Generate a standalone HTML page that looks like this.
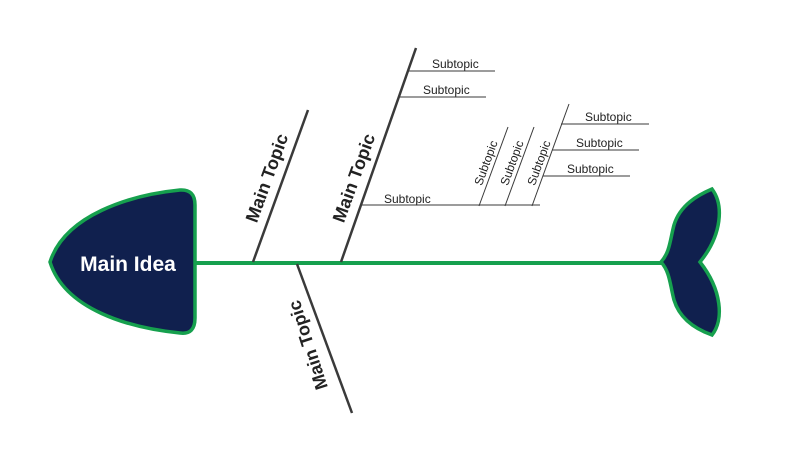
<!DOCTYPE html>
<html><head><meta charset="utf-8"><style>body{margin:0;background:#fff}</style></head>
<body>
<svg width="797" height="464" viewBox="0 0 797 464" xmlns="http://www.w3.org/2000/svg" font-family="Liberation Sans, sans-serif">
<rect width="797" height="464" fill="#fff"/>
<line x1="195" y1="263" x2="662" y2="263" stroke="#16a04e" stroke-width="4"/>
<path d="M50,262 C65,215 130,195 180,190 Q195,189 195,205 L195,318 Q195,335 180,333 C130,328 65,310 50,262 Z" fill="#10204e" stroke="#16a04e" stroke-width="3.5"/>
<text x="128" y="271" fill="#fff" font-size="21" font-weight="bold" text-anchor="middle">Main Idea</text>
<path d="M661,262 C670,252 670,240 674,225 C680,205 698,195 712,189 C724,205 722,235 700,262 C722,290 724,320 712,335 C698,330 680,320 674,300 C670,285 670,272 661,262 Z" fill="#10204e" stroke="#16a04e" stroke-width="3.5"/>
<g stroke="#3a3a3a" stroke-width="2.5" fill="none">
<line x1="253" y1="262" x2="308" y2="110"/>
<line x1="341" y1="262" x2="416" y2="48"/>
<line x1="297" y1="264" x2="352" y2="413"/>
</g>
<g stroke="#3a3a3a" stroke-width="1" fill="none">
<line x1="408" y1="71" x2="495" y2="71"/>
<line x1="399" y1="97" x2="486" y2="97"/>
<line x1="362" y1="205" x2="540" y2="205"/>
<line x1="479" y1="206" x2="508" y2="127"/>
<line x1="505" y1="206" x2="534" y2="127"/>
<line x1="532" y1="206" x2="569" y2="104"/>
<line x1="561" y1="124" x2="649" y2="124"/>
<line x1="552" y1="150" x2="639" y2="150"/>
<line x1="543" y1="176" x2="630" y2="176"/>
</g>
<g font-size="18" font-weight="bold" fill="#222" text-anchor="middle" dominant-baseline="central">
<text transform="translate(267,178) rotate(-70)">Main Topic</text>
<text transform="translate(354,178) rotate(-70)">Main Topic</text>
<text transform="translate(308,345) rotate(-108)">Main Topic</text>
</g>
<g font-size="12" fill="#222">
<text x="432" y="68">Subtopic</text>
<text x="423" y="94">Subtopic</text>
<text x="384" y="203">Subtopic</text>
<text x="585" y="121">Subtopic</text>
<text x="576" y="147">Subtopic</text>
<text x="567" y="173">Subtopic</text>
</g>
<g font-size="12" fill="#222" text-anchor="middle" dominant-baseline="central">
<text transform="translate(486,163) rotate(-70)">Subtopic</text>
<text transform="translate(512,163) rotate(-70)">Subtopic</text>
<text transform="translate(539,163) rotate(-70)">Subtopic</text>
</g>
</svg>
</body></html>
